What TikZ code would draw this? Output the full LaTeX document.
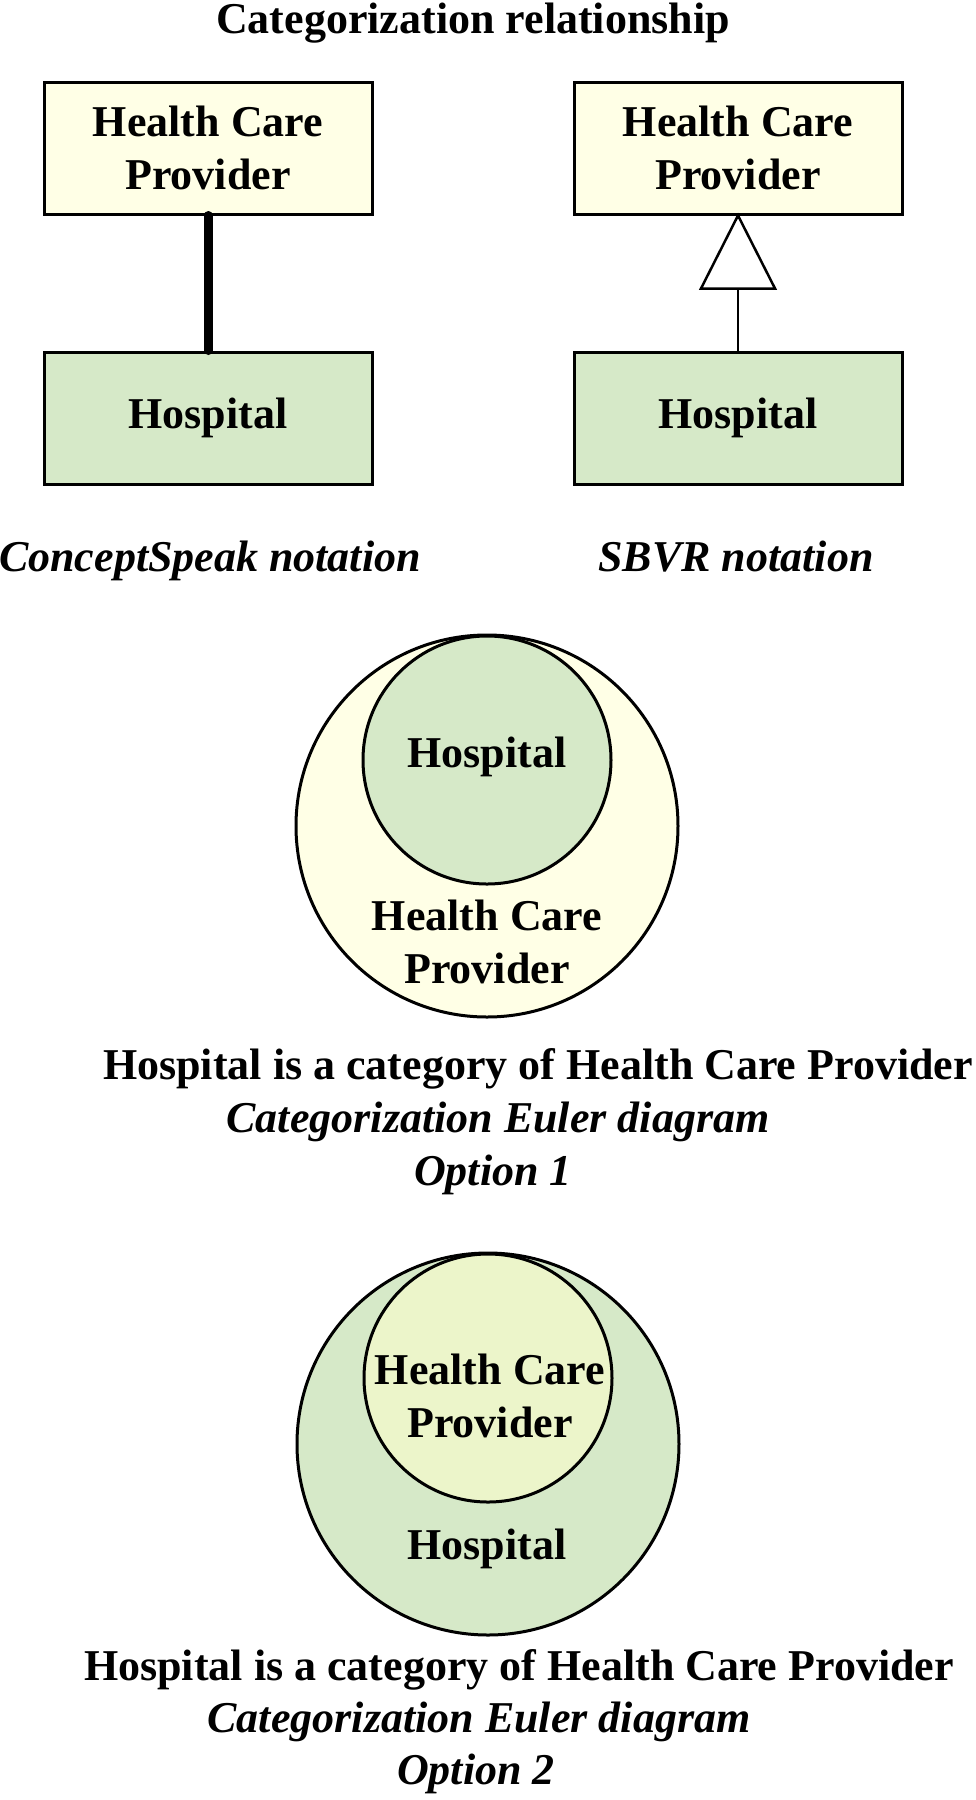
\documentclass[tikz,border=0pt]{standalone}
\usepackage{fontspec}
\setmainfont{Liberation Serif}
\definecolor{paleyellow}{HTML}{FFFFE6}
\definecolor{palegreen}{HTML}{D6E9C8}
\definecolor{lightlime}{HTML}{ECF5CA}
\begin{document}
\begin{tikzpicture}[x=1pt,y=-1pt,
  txt/.style={font=\fontsize{44}{53}\selectfont\bfseries, align=center, inner sep=0pt},
  itxt/.style={font=\fontsize{44}{53}\selectfont\bfseries\itshape, inner sep=0pt},
  conceptbox/.style={draw=black, line width=3pt, minimum width=328pt, minimum height=132pt, inner sep=0pt, txt},
  ring/.style={draw=black, line width=3pt, circle, inner sep=0pt},
  thickconn/.style={line width=9pt, line cap=round},
  thinconn/.style={line width=2.5pt},
  genhead/.style={draw=black, fill=white, line width=2.5pt, line join=miter}
]
\useasboundingbox (0,0) rectangle (976,1800);

% title
\node[txt, anchor=base] (title) at (473,33) {Categorization relationship};

% ConceptSpeak notation
\node[conceptbox, fill=paleyellow] (hcpA) at (208,148) {Health Care\\Provider};
\node[conceptbox, fill=palegreen] (hospA) at (208,418) {Hospital};
\draw[thickconn] (hcpA.south) -- (hospA.north);
\node[itxt, anchor=base] (csLabel) at (210,571) {ConceptSpeak notation};

% SBVR notation
\node[conceptbox, fill=paleyellow] (hcpB) at (738,148) {Health Care\\Provider};
\node[conceptbox, fill=palegreen] (hospB) at (738,418) {Hospital};
\path (hcpB.south) ++(0,73) coordinate (triBase);
\draw[thinconn] (triBase) -- (hospB.north);
\draw[genhead] (hcpB.south) -- ++(37,73) -- ++(-74,0) -- cycle;
\node[itxt, anchor=base] (sbvrLabel) at (736,571) {SBVR notation};

% Euler diagram option 1
\node[ring, fill=paleyellow, minimum size=382pt] (outerA) at (487,826) {};
\node[ring, fill=palegreen, minimum size=248pt] (innerA) at (487,760) {};
\node[txt] (innerAText) at (487,757) {Hospital};
\node[txt] (outerAText) at (487,942) {Health Care\\Provider};
\node[txt, anchor=base] (capA1) at (538,1079) {Hospital is a category of Health Care Provider};
\node[itxt, anchor=base] (capA2) at (498,1132) {Categorization Euler diagram};
\node[itxt, anchor=base] (capA3) at (493,1185) {Option 1};

% Euler diagram option 2
\node[ring, fill=palegreen, minimum size=382pt] (outerB) at (488,1444) {};
\node[ring, fill=lightlime, minimum size=248pt] (innerB) at (488,1378) {};
\node[txt] (innerBText) at (490,1396) {Health Care\\Provider};
\node[txt] (outerBText) at (487,1549) {Hospital};
\node[txt, anchor=base] (capB1) at (519,1680) {Hospital is a category of Health Care Provider};
\node[itxt, anchor=base] (capB2) at (479,1732) {Categorization Euler diagram};
\node[itxt, anchor=base] (capB3) at (476,1784) {Option 2};
\end{tikzpicture}
\end{document}
